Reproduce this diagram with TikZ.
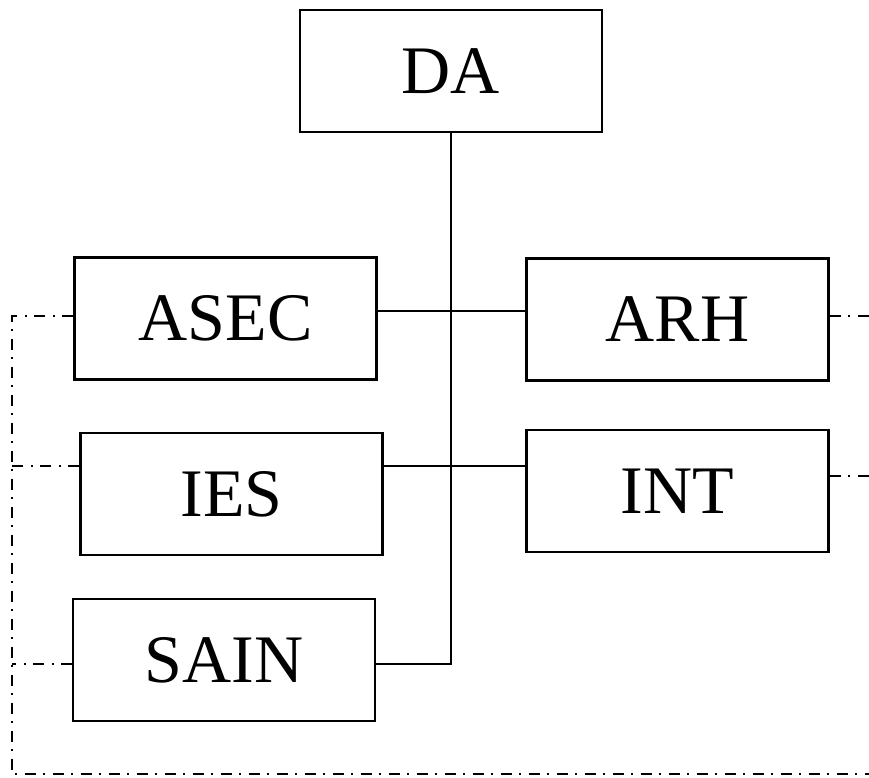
\documentclass[tikz,border=0pt]{standalone}
\usepackage{fontspec}
\setmainfont{Liberation Serif}
\usepackage{tikz}
\usetikzlibrary{positioning}

\begin{document}
\begin{tikzpicture}[x=1pt, y=-1pt,
squarednode/.style={rectangle, align=center, draw=black, line width=2.6pt, inner sep=0pt, minimum width=302pt, minimum height=122pt, font=\fontsize{68}{80}\selectfont},
linkline/.style={line width=2.6pt},
dashline/.style={line width=2pt, dash pattern=on 11pt off 7pt on 2pt off 8pt},
]
\useasboundingbox (0,0) rectangle (869,777);
%Nodes
\node[squarednode](DA) at (451,71){DA};
\node[squarednode](ASEC) at (225.5,318.5){ASEC};
\node[squarednode](ARH) at (677.5,319.5){ARH};
\node[squarednode](IES) at (231.5,494){IES};
\node[squarednode](INT) at (677.5,491){INT};
\node[squarednode](SAIN) at (224,660){SAIN};

%Ends of the dash-dot lines
\coordinate (ASEC left) at ([yshift=2.5pt]ASEC.west);
\coordinate (IES left) at ([yshift=28pt]IES.west);
\coordinate (SAIN left) at ([yshift=-4pt]SAIN.west);
\coordinate (ARH right) at ([yshift=3.5pt]ARH.east);
\coordinate (INT right) at ([yshift=15pt]INT.east);
\coordinate (cornerTop) at (12,316);
\coordinate (cornerBottom) at (12,774);
\coordinate (edgeBottom) at (869,774);

%Lines
\draw[linkline] (DA.south) |- ([yshift=-4pt]SAIN.east);
\draw[linkline] ([yshift=7.5pt]ASEC.east) -- ([yshift=8.5pt]ARH.west);
\draw[linkline] ([yshift=28pt]IES.east) -- ([yshift=25pt]INT.west);

%Dash-dot lines
\draw[dashline] (ASEC left) -- (cornerTop) -- (cornerBottom) -- (edgeBottom);
\draw[dashline] (IES left) -- (cornerTop |- IES left);
\draw[dashline] (SAIN left) -- (cornerTop |- SAIN left);
\draw[dashline] (ARH right) -- (edgeBottom |- ARH right);
\draw[dashline] (INT right) -- (edgeBottom |- INT right);
\end{tikzpicture}
\end{document}
